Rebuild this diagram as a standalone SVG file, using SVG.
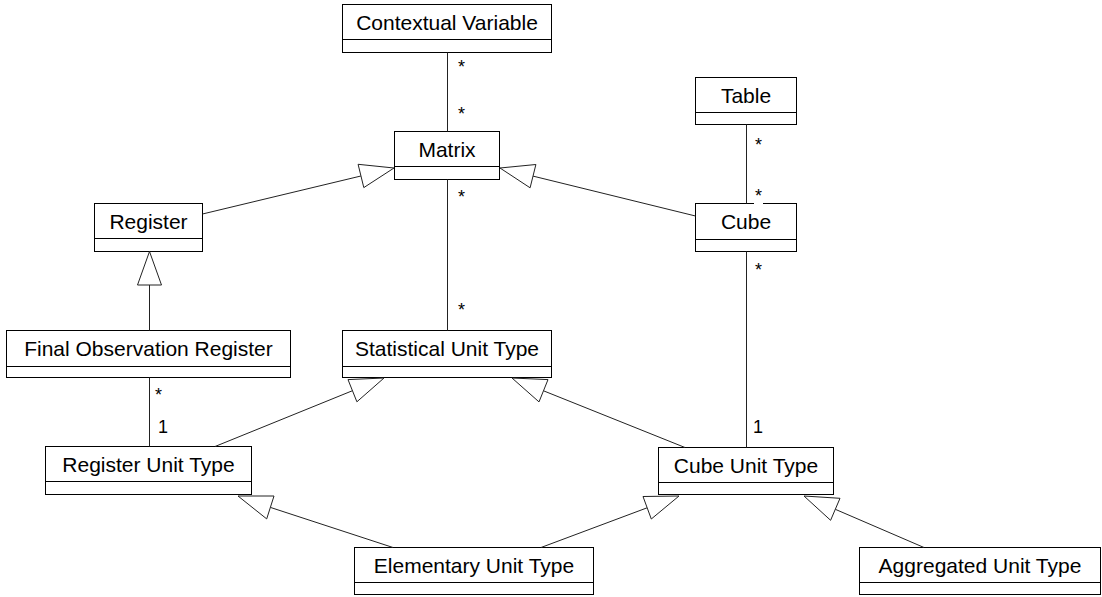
<svg xmlns="http://www.w3.org/2000/svg" width="1102" height="597" viewBox="0 0 1102 597">
<style>
.box{fill:#fff;stroke:#000;stroke-width:1}
.div{stroke:#000;stroke-width:1}
.name{font-family:"Liberation Sans",Arial,sans-serif;font-size:21px;fill:#000;text-anchor:middle}
.ln{stroke:#222;stroke-width:1;fill:none}
.tri{fill:#fff;stroke:#222;stroke-width:1}
.m{font-family:"Liberation Sans",Arial,sans-serif;font-size:18px;fill:#000}
</style>
<rect width="1102" height="597" fill="#fff"/>
<g id="nodes">
<g id="contextual-variable"><rect class="box" x="342.5" y="4.5" width="209" height="48"/><line class="div" x1="342.5" y1="39.5" x2="551.5" y2="39.5"/><text class="name" x="447" y="30">Contextual Variable</text></g>
<g id="matrix"><rect class="box" x="394.5" y="131.5" width="105" height="48"/><line class="div" x1="394.5" y1="166.5" x2="499.5" y2="166.5"/><text class="name" x="447" y="157">Matrix</text></g>
<g id="table"><rect class="box" x="695.5" y="77.5" width="101" height="47"/><line class="div" x1="695.5" y1="112.5" x2="796.5" y2="112.5"/><text class="name" x="746" y="103">Table</text></g>
<g id="register"><rect class="box" x="94.5" y="203.5" width="108" height="48"/><line class="div" x1="94.5" y1="238.5" x2="202.5" y2="238.5"/><text class="name" x="148.5" y="229">Register</text></g>
<g id="cube"><rect class="box" x="695.5" y="203.5" width="101" height="48"/><line class="div" x1="695.5" y1="239.5" x2="796.5" y2="239.5"/><text class="name" x="746" y="229">Cube</text></g>
<g id="final-observation-register"><rect class="box" x="6.5" y="330.5" width="284" height="47"/><line class="div" x1="6.5" y1="366.5" x2="290.5" y2="366.5"/><text class="name" x="148.5" y="356">Final Observation Register</text></g>
<g id="statistical-unit-type"><rect class="box" x="342.5" y="330.5" width="209" height="47"/><line class="div" x1="342.5" y1="366.5" x2="551.5" y2="366.5"/><text class="name" x="447" y="356">Statistical Unit Type</text></g>
<g id="register-unit-type"><rect class="box" x="45.5" y="446.5" width="206" height="48"/><line class="div" x1="45.5" y1="481.5" x2="251.5" y2="481.5"/><text class="name" x="148.5" y="472">Register Unit Type</text></g>
<g id="cube-unit-type"><rect class="box" x="658.5" y="447.5" width="175" height="47"/><line class="div" x1="658.5" y1="482.5" x2="833.5" y2="482.5"/><text class="name" x="746" y="473">Cube Unit Type</text></g>
<g id="elementary-unit-type"><rect class="box" x="354.5" y="547.5" width="239" height="47"/><line class="div" x1="354.5" y1="582.5" x2="593.5" y2="582.5"/><text class="name" x="474" y="573">Elementary Unit Type</text></g>
<g id="aggregated-unit-type"><rect class="box" x="859.5" y="547.5" width="241" height="47"/><line class="div" x1="859.5" y1="582.5" x2="1100.5" y2="582.5"/><text class="name" x="980" y="573">Aggregated Unit Type</text></g>
</g>
<g id="connectors">
<line class="ln" x1="447.5" y1="52.5" x2="447.5" y2="131.5"/>
<line class="ln" x1="447.5" y1="179.5" x2="447.5" y2="330.5"/>
<line class="ln" x1="746.5" y1="124.5" x2="746.5" y2="203.5"/>
<line class="ln" x1="746.5" y1="251.5" x2="746.5" y2="447.5"/>
<line class="ln" x1="149.5" y1="377.5" x2="149.5" y2="446.5"/>
<line class="ln" x1="202.5" y1="214" x2="360.9" y2="176"/>
<polygon class="tri" points="394,168 358.1,164.3 363.8,187.6"/>
<line class="ln" x1="695.5" y1="216" x2="533" y2="176.1"/>
<polygon class="tri" points="500,168 530.1,187.8 535.9,164.5"/>
<line class="ln" x1="149.5" y1="330.5" x2="149.5" y2="285"/>
<polygon class="tri" points="149.5,251.5 137.5,285 161.5,285"/>
<line class="ln" x1="215" y1="446.5" x2="352.5" y2="390.7"/>
<polygon class="tri" points="384,378 348,379.6 356.9,401.8"/>
<line class="ln" x1="685" y1="447.5" x2="543.5" y2="390.8"/>
<polygon class="tri" points="512,378 539,401.9 548,379.6"/>
<line class="ln" x1="393" y1="547.5" x2="270.4" y2="507.4"/>
<polygon class="tri" points="238,496 266.7,518.9 274,496"/>
<line class="ln" x1="541" y1="547.5" x2="647.1" y2="507.8"/>
<polygon class="tri" points="679,496 643,496.5 651.3,519"/>
<line class="ln" x1="924" y1="547.5" x2="835.3" y2="509.3"/>
<polygon class="tri" points="804,496 830.6,520.3 840,498.3"/>
<text class="m" x="458" y="73">*</text>
<text class="m" x="458" y="120">*</text>
<text class="m" x="458" y="203">*</text>
<text class="m" x="458" y="316">*</text>
<text class="m" x="755" y="151">*</text>
<rect x="754" y="190" width="9" height="15" fill="#fff"/>
<text class="m" x="755" y="202">*</text>
<text class="m" x="755" y="276">*</text>
<text class="m" x="753" y="433">1</text>
<text class="m" x="155" y="401">*</text>
<text class="m" x="158" y="433">1</text>
</g>
</svg>
